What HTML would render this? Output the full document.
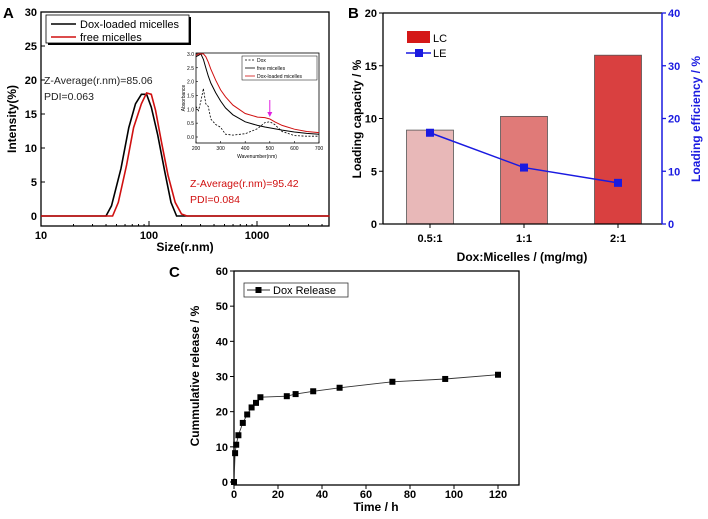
<!DOCTYPE html>
<html><head><meta charset="utf-8"><style>
body{margin:0;background:#fff;}
svg{display:block;font-family:"Liberation Sans",Arial,sans-serif;}
.b{font-weight:bold;}
</style></head><body>
<svg id="fig" width="708" height="519" viewBox="0 0 708 519" xmlns="http://www.w3.org/2000/svg">
<g id="pa"></g>
<g id="pb"></g>
<g id="pc"></g>
</svg>
<script>
// Panel A data
const aSizes = [10,38,40,45,55,65,75,85,95,105,120,140,160,180,200,4700];
const aDox   = [0,0,0,1.5,7,13,16.5,17.9,17.9,16,12,6.5,2,0,0,0];
const aSizesR = [10,44,46,52,62,72,85,95,105,115,130,150,175,200,225,4700];
const aFree   = [0,0,0,2,7.5,13,16.5,18.1,17.9,15.5,11,6,2,0.3,0,0];
const aXTicks = [10,100,1000];
const aYTicks = [0,5,10,15,20,25,30];
// inset
const inWl = [200,210,220,230,240,250,260,280,300,320,350,400,450,480,500,520,550,600,650,700];
const inDox = [1.1,0.95,1.3,1.75,1.2,1.1,0.65,0.45,0.35,0.1,0.07,0.12,0.3,0.52,0.55,0.45,0.2,0.05,0.03,0.03];
const inFree = [2.9,2.95,3.0,2.8,2.5,2.2,1.95,1.6,1.3,1.05,0.8,0.55,0.42,0.36,0.33,0.3,0.25,0.18,0.13,0.1];
const inLoad = [2.95,3.0,3.0,3.0,2.9,2.7,2.45,2.05,1.7,1.45,1.15,0.85,0.72,0.7,0.65,0.55,0.42,0.28,0.2,0.16];
// Panel B data
const bCats = ["0.5:1","1:1","2:1"];
const bLC = [8.9,10.2,16.0];
const bLE = [17.3,10.7,7.8];
const bYL = [0,5,10,15,20];
const bYR = [0,10,20,30,40];
// Panel C data
const cTime = [0,0.5,1,2,4,6,8,10,12,24,28,36,48,72,96,120];
const cRel  = [0,8.2,10.6,13.3,16.8,19.2,21.2,22.5,24.1,24.4,25,25.8,26.8,28.5,29.3,30.5];
const cXT = [0,20,40,60,80,100,120];
const cYT = [0,10,20,30,40,50,60];

const NS="http://www.w3.org/2000/svg";
function mk(p,t,a,txt){const e=document.createElementNS(NS,t);for(const k in a)e.setAttribute(k,a[k]);if(txt!==undefined)e.textContent=txt;p.appendChild(e);return e;}
function pts(xs,ys,fx,fy){return xs.map((x,i)=>fx(x).toFixed(1)+","+fy(ys[i]).toFixed(1)).join(" ");}

// ---------- A ----------
const A=document.getElementById('pa');
const axL=41,axR=329,axT=12,axB=226;
const ax=v=>axL+(Math.log10(v)-1)*108, ay=v=>216-v*6.8;
let e;
e=mk(A,'text',{x:3,y:18,'font-size':15,class:'b'},'A');

e=mk(A,'rect',{x:axL,y:axT,width:axR-axL,height:axB-axT,fill:'none',stroke:'#000','stroke-width':1.3});

aYTicks.forEach(v=>{mk(A,'line',{x1:axL,x2:axL+4,y1:ay(v),y2:ay(v),stroke:'#000'});
 e=mk(A,'text',{x:axL-4,y:ay(v)+4,'font-size':11,'text-anchor':'end',class:'b'},v);
 });
for(let d=1;d<=3;d++)for(let m=2;m<=9;m++){const v=Math.pow(10,d)*m;if(ax(v)<axR)mk(A,'line',{x1:ax(v),x2:ax(v),y1:axB,y2:axB-2,stroke:'#000'});}
aXTicks.forEach(v=>{mk(A,'line',{x1:ax(v),x2:ax(v),y1:axB,y2:axB-5,stroke:'#000'});
 e=mk(A,'text',{x:ax(v),y:axB+13,'font-size':11,'text-anchor':'middle',class:'b'},v);
 });
e=mk(A,'text',{x:185,y:251,'font-size':12,'text-anchor':'middle',class:'b'},'Size(r.nm)');

e=mk(A,'text',{x:16,y:119,'font-size':12,'text-anchor':'middle',class:'b',transform:'rotate(-90 16 119)'},'Intensity(%)');

e=mk(A,'polyline',{points:pts(aSizes,aDox,ax,ay),fill:'none',stroke:'#000','stroke-width':1.6});

e=mk(A,'polyline',{points:pts(aSizesR,aFree,ax,ay),fill:'none',stroke:'#d01010','stroke-width':1.6});

// legend
mk(A,'rect',{x:48,y:17,width:143,height:28,fill:'#000'});
e=mk(A,'rect',{x:46,y:15,width:143,height:28,fill:'#fff',stroke:'#000','stroke-width':0.8});

mk(A,'line',{x1:51,x2:76,y1:24,y2:24,stroke:'#000','stroke-width':1.6});
e=mk(A,'text',{x:80,y:28,'font-size':11},'Dox-loaded micelles');
mk(A,'line',{x1:51,x2:76,y1:37,y2:37,stroke:'#d01010','stroke-width':1.6});
e=mk(A,'text',{x:80,y:41,'font-size':11},'free micelles');
e=mk(A,'text',{x:44,y:84,'font-size':10.5,fill:'#222'},'Z-Average(r.nm)=85.06');
mk(A,'text',{x:44,y:100,'font-size':10.5,fill:'#222'},'PDI=0.063');
e=mk(A,'text',{x:190,y:187,'font-size':10.5,fill:'#d01010'},'Z-Average(r.nm)=95.42');
mk(A,'text',{x:190,y:203,'font-size':10.5,fill:'#d01010'},'PDI=0.084');
// inset
const iL=196,iR=319,iT=53,iB=143;
const ix=v=>iL+(v-200)/500*(iR-iL), iy=v=>137-v*27.7;
e=mk(A,'rect',{x:iL,y:iT,width:iR-iL,height:iB-iT,fill:'#fff',stroke:'#000','stroke-width':0.8});

[0,0.5,1,1.5,2,2.5,3].forEach(v=>{mk(A,'line',{x1:iL,x2:iL+2,y1:iy(v),y2:iy(v),stroke:'#000','stroke-width':0.6});mk(A,'text',{x:iL-2,y:iy(v)+2,'font-size':5,'text-anchor':'end'},v.toFixed(1));});
[200,300,400,500,600,700].forEach(v=>{mk(A,'line',{x1:ix(v),x2:ix(v),y1:iB,y2:iB-2,stroke:'#000','stroke-width':0.6});mk(A,'text',{x:ix(v),y:iB+7,'font-size':5,'text-anchor':'middle'},v);});
mk(A,'text',{x:257,y:158,'font-size':5,'text-anchor':'middle'},'Wavenumber(nm)');
mk(A,'text',{x:185,y:98,'font-size':5,'text-anchor':'middle',transform:'rotate(-90 185 98)'},'Absorbance');
e=mk(A,'polyline',{points:pts(inWl,inDox,ix,iy),fill:'none',stroke:'#000','stroke-width':0.8,'stroke-dasharray':'2,1.5'});
e=mk(A,'polyline',{points:pts(inWl,inFree,ix,iy),fill:'none',stroke:'#000','stroke-width':1});
e=mk(A,'polyline',{points:pts(inWl,inLoad,ix,iy),fill:'none',stroke:'#d01010','stroke-width':1});
mk(A,'line',{x1:ix(500),x2:ix(500),y1:100,y2:115,stroke:'#e020e0','stroke-width':1});
mk(A,'path',{d:`M${ix(500)-2.5},112 L${ix(500)+2.5},112 L${ix(500)},117 Z`,fill:'#e020e0'});
mk(A,'rect',{x:242,y:56,width:75,height:24,fill:'#fff',stroke:'#000','stroke-width':0.5});
mk(A,'line',{x1:245,x2:255,y1:60,y2:60,stroke:'#000','stroke-width':0.8,'stroke-dasharray':'2,1.5'});mk(A,'text',{x:257,y:62,'font-size':5},'Dox');
mk(A,'line',{x1:245,x2:255,y1:68,y2:68,stroke:'#000','stroke-width':0.8});mk(A,'text',{x:257,y:70,'font-size':5},'free micelles');
mk(A,'line',{x1:245,x2:255,y1:76,y2:76,stroke:'#d01010','stroke-width':0.8});mk(A,'text',{x:257,y:78,'font-size':5},'Dox-loaded micelles');

// ---------- B ----------
const B=document.getElementById('pb');
const bL=383,bR=662,bT=13,bB=224;
const byl=v=>bB-v/20*(bB-bT), byr=v=>bB-v/40*(bB-bT);
const bx=i=>430+i*94;
const barCol=['#e8b8b8','#e07a78','#d94040'];
e=mk(B,'text',{x:348,y:18,'font-size':15,class:'b'},'B');
bLC.forEach((v,i)=>{e=mk(B,'rect',{x:bx(i)-23.5,y:byl(v),width:47,height:bB-byl(v),fill:barCol[i],stroke:'#555','stroke-width':0.8});
 });
e=mk(B,'polyline',{points:bLE.map((v,i)=>bx(i)+','+byr(v)).join(' '),fill:'none',stroke:'#1a1ae0','stroke-width':1.5});

bLE.forEach((v,i)=>{e=mk(B,'rect',{x:bx(i)-4,y:byr(v)-4,width:8,height:8,fill:'#1a1ae0'});});
mk(B,'line',{x1:bL,x2:bR,y1:bT,y2:bT,stroke:'#000','stroke-width':1.3});
mk(B,'line',{x1:bL,x2:bR,y1:bB,y2:bB,stroke:'#000','stroke-width':1.3});
mk(B,'line',{x1:bL,x2:bL,y1:bT,y2:bB,stroke:'#000','stroke-width':1.3});
mk(B,'line',{x1:bR,x2:bR,y1:bT,y2:bB,stroke:'#1a1ae0','stroke-width':1.5});
bYL.forEach(v=>{mk(B,'line',{x1:bL,x2:bL-4,y1:byl(v),y2:byl(v),stroke:'#000'});
 e=mk(B,'text',{x:bL-6,y:byl(v)+4,'font-size':11,'text-anchor':'end',class:'b'},v);});
bYR.forEach(v=>{mk(B,'line',{x1:bR,x2:bR+4,y1:byr(v),y2:byr(v),stroke:'#1a1ae0','stroke-width':1.3});
 e=mk(B,'text',{x:bR+6,y:byr(v)+4,'font-size':11,fill:'#1a1ae0',class:'b'},v);});
bCats.forEach((c,i)=>{mk(B,'line',{x1:bx(i),x2:bx(i),y1:bB,y2:bB+4,stroke:'#000'});
 e=mk(B,'text',{x:bx(i),y:bB+18,'font-size':11,'text-anchor':'middle',class:'b'},c);});
e=mk(B,'text',{x:522,y:261,'font-size':12,'text-anchor':'middle',class:'b'},'Dox:Micelles / (mg/mg)');
e=mk(B,'text',{x:361,y:119,'font-size':12,'text-anchor':'middle',class:'b',transform:'rotate(-90 361 119)'},'Loading capacity / %');
e=mk(B,'text',{x:700,y:119,'font-size':12,'text-anchor':'middle',fill:'#1a1ae0',class:'b',transform:'rotate(-90 700 119)'},'Loading efficiency / %');
e=mk(B,'rect',{x:407,y:31,width:23,height:12,fill:'#d41818'});
mk(B,'text',{x:433,y:42,'font-size':11},'LC');
mk(B,'line',{x1:406,x2:431,y1:53,y2:53,stroke:'#1a1ae0','stroke-width':1.5});
mk(B,'rect',{x:415,y:49,width:8,height:8,fill:'#1a1ae0'});
e=mk(B,'text',{x:433,y:57,'font-size':11},'LE');

// ---------- C ----------
const C=document.getElementById('pc');
const cL=234,cR=519,cT=271,cB=485;
const cx=v=>cL+v/120*(498-cL), cy=v=>482-v/60*(482-cT);
e=mk(C,'text',{x:169,y:277,'font-size':15,class:'b'},'C');
e=mk(C,'rect',{x:cL,y:cT,width:cR-cL,height:cB-cT,fill:'none',stroke:'#000','stroke-width':1.3});
cYT.forEach(v=>{mk(C,'line',{x1:cL,x2:cL-4,y1:cy(v),y2:cy(v),stroke:'#000'});
 e=mk(C,'text',{x:cL-6,y:cy(v)+4,'font-size':11,'text-anchor':'end',class:'b'},v);});
cXT.forEach(v=>{mk(C,'line',{x1:cx(v),x2:cx(v),y1:cB,y2:cB+4,stroke:'#000'});
 e=mk(C,'text',{x:cx(v),y:cB+13,'font-size':11,'text-anchor':'middle',class:'b'},v);});
e=mk(C,'text',{x:376,y:511,'font-size':12,'text-anchor':'middle',class:'b'},'Time / h');
e=mk(C,'text',{x:199,y:376,'font-size':12,'text-anchor':'middle',class:'b',transform:'rotate(-90 199 376)'},'Cummulative release / %');
e=mk(C,'polyline',{points:pts(cTime,cRel,cx,cy),fill:'none',stroke:'#333','stroke-width':0.9});
cTime.forEach((t,i)=>{e=mk(C,'rect',{x:cx(t)-3,y:cy(cRel[i])-3,width:6,height:6,fill:'#000'});});
e=mk(C,'rect',{x:244,y:283,width:104,height:14,fill:'#fff',stroke:'#333','stroke-width':0.8});
mk(C,'line',{x1:247,x2:270,y1:290,y2:290,stroke:'#333','stroke-width':0.9});
mk(C,'rect',{x:255.5,y:287,width:6,height:6,fill:'#000'});
mk(C,'text',{x:273,y:294,'font-size':11},'Dox Release');
</script>
</body></html>
